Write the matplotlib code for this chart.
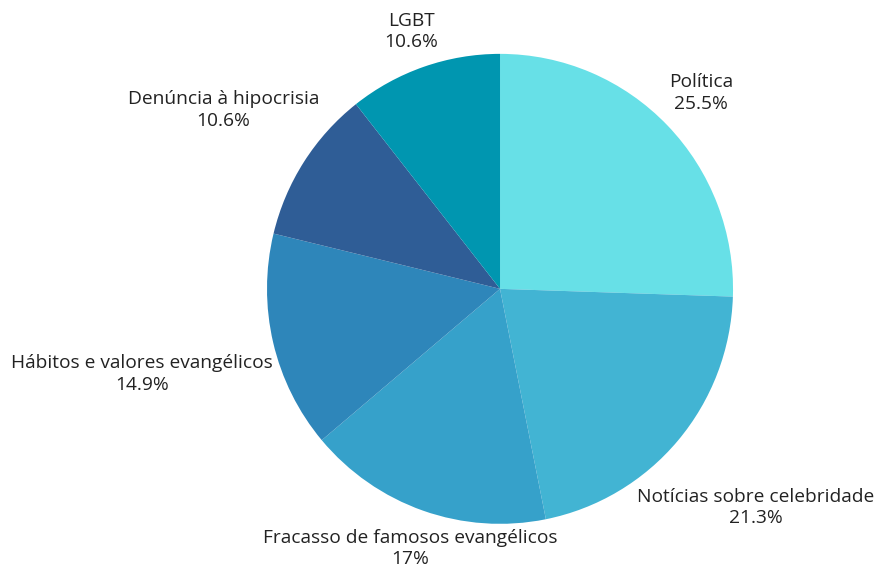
import numpy as np
import matplotlib
matplotlib.use("Agg")
import matplotlib.pyplot as plt

plt.rcParams["font.family"] = ["Open Sans", "DejaVu Sans"]

categories = [
    "Política",
    "Notícias sobre celebridade",
    "Fracasso de famosos evangélicos",
    "Hábitos e valores evangélicos",
    "Denúncia à hipocrisia",
    "LGBT",
]
shares = [25.5, 21.3, 17, 14.9, 10.6, 10.6]
share_labels = ["25.5%", "21.3%", "17%", "14.9%", "10.6%", "10.6%"]

colors = ["#67E0E7", "#42B4D3", "#36A1CA", "#2E86BA", "#2F5D96", "#0096B0"]
label_dist = [1.2, 1.44, 1.17, 1.58, 1.41, 1.16]

fig = plt.figure(figsize=(8.74, 5.70), dpi=100)
ax = fig.add_axes([0.3055, 0.081, 0.5332, 0.8245])

wedges, _ = ax.pie(shares, colors=colors, startangle=90, counterclock=False,
                   radius=1.0, wedgeprops=dict(linewidth=0))

for w, name, pct, d in zip(wedges, categories, share_labels, label_dist):
    mid = np.deg2rad((w.theta1 + w.theta2) / 2)
    ax.text(d * np.cos(mid), d * np.sin(mid), f"{name}\n{pct}",
            ha="center", va="center", fontsize=13.8, color="#222222",
            linespacing=1.25)

ax.set_xlim(-1, 1)
ax.set_ylim(-1, 1)
ax.set_aspect("auto")
ax.axis("off")

fig.savefig("out.png", dpi=100, facecolor="white")
